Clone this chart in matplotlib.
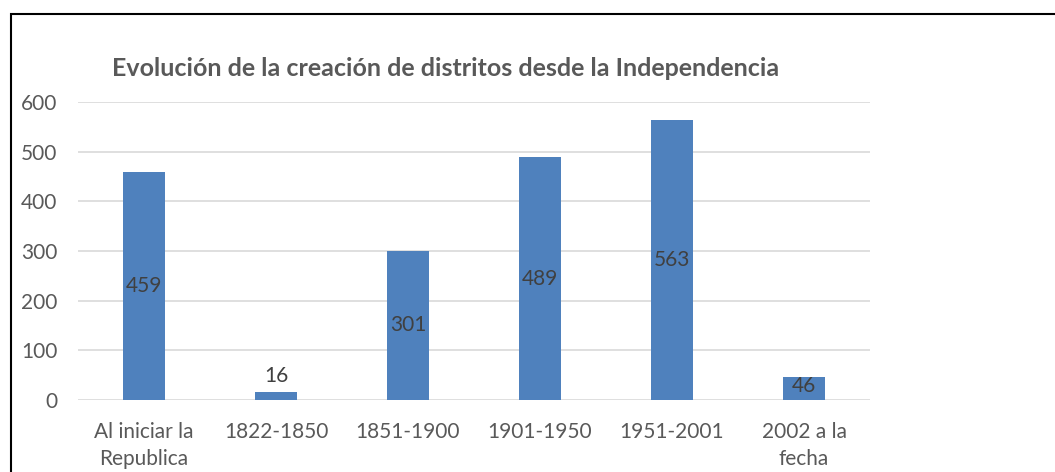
import matplotlib
matplotlib.use("Agg")
import matplotlib.pyplot as plt
from matplotlib.patches import Rectangle

# datos
categorias = ["Al iniciar la\nRepublica", "1822-1850", "1851-1900",
              "1901-1950", "1951-2001", "2002 a la\nfecha"]
distritos = [459, 16, 301, 489, 563, 46]
yticks = [0, 100, 200, 300, 400, 500, 600]

plt.rcParams['font.family'] = ['Lato', 'DejaVu Sans']
gris = '#595959'

fig = plt.figure(figsize=(10.55, 4.72), dpi=100)
ax = fig.add_axes([78 / 1055, 1 - 400 / 472, 792 / 1055, 298 / 472])

x = range(len(categorias))
barras = ax.bar(x, distritos, width=0.32, color='#4F81BD', zorder=3)

ax.set_xlim(-0.5, len(categorias) - 0.5)
ax.set_ylim(0, 600)
ax.set_yticks(yticks)
ax.set_yticklabels([str(v) for v in yticks], fontsize=15, color=gris)
ax.set_xticks(list(x))
ax.set_xticklabels(categorias, fontsize=15, color=gris, linespacing=1.45)
ax.tick_params(length=0)
ax.tick_params(axis='y', pad=15)
ax.tick_params(axis='x', pad=16)
ax.grid(axis='y', color='#D9D9D9', linewidth=1.2, zorder=0)
for s in ax.spines.values():
    s.set_visible(False)

# etiquetas de datos
for i, v in enumerate(distritos):
    if v < 30:
        ax.text(i, v + 12, str(v), ha='center', va='bottom', fontsize=15, color='#404040')
    elif v < 100:
        ax.text(i, v + 2, str(v), ha='center', va='top', fontsize=15, color='#404040', zorder=4)
    else:
        ax.text(i, v / 2, str(v), ha='center', va='center', fontsize=15, color='#404040', zorder=4)

fig.text(446 / 1055, 1 - 68 / 472, "Evolución de la creación de distritos desde la Independencia",
         ha='center', va='center', fontsize=18, fontweight='bold', color=gris)

# marco
fig.patches.append(Rectangle((11 / 1055, -0.1), 1.2, 1 - 14 / 472 + 0.1,
                             transform=fig.transFigure, fill=False,
                             edgecolor='black', linewidth=1.5))

fig.savefig('out.png', dpi=100)
